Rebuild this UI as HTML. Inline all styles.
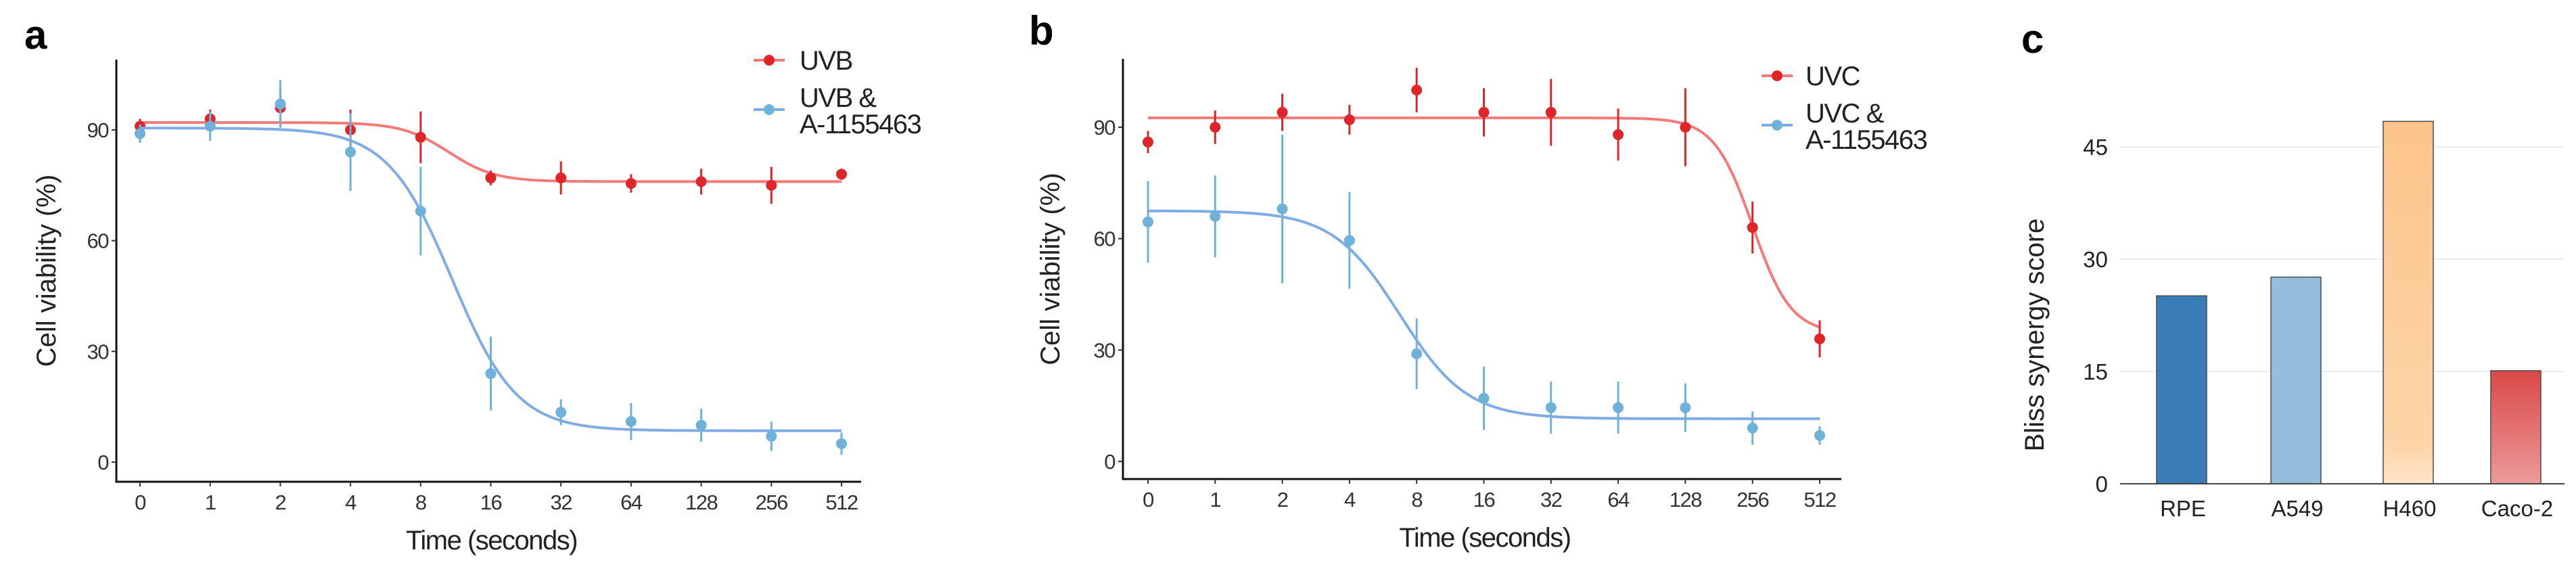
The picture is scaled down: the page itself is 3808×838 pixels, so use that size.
<!DOCTYPE html>
<html><head><meta charset="utf-8"><style>
html,body{margin:0;padding:0;background:#fff;}
svg{display:block;font-family:"Liberation Sans",Arial,sans-serif;}
</style></head><body>
<svg id="fig" width="3808" height="838" viewBox="0 0 3808 838" xmlns="http://www.w3.org/2000/svg">
<defs>
<linearGradient id="gH" x1="0" y1="0" x2="0" y2="1"><stop offset="0" stop-color="#fcc48a"/><stop offset="0.9" stop-color="#fdd5a8"/><stop offset="1" stop-color="#fde4c8"/></linearGradient>
<linearGradient id="gC" x1="0" y1="0" x2="0" y2="1"><stop offset="0" stop-color="#da4848"/><stop offset="1" stop-color="#eb9a9a"/></linearGradient>
</defs>
</svg>
<script>
// ---- data panel a ----
const timeLabels = ["0","1","2","4","8","16","32","64","128","256","512"];
const yTicks = [0,30,60,90];
const uvbMean = [91,93,96,90,88,77,77,75.5,76,75,78];
const uvbErr  = [2,2.5,5,5.5,7,2,4.5,2.5,3.5,5,1.5];
const uvbComboMean = [89,91,97,84,68,24,13.5,11,10,7,5];
const uvbComboErr  = [2.5,4,6.5,10.5,12,10,3.5,5,4.5,4,3];
const uvbFit = [92,76,4.4,3.0];          // top, bottom, mid(index), slope
const uvbComboFit = [90.5,8.5,4.45,2.17];
// ---- data panel b ----
const uvcMean = [86,90,94,92,100,94,94,88,90,63,33];
const uvcErr  = [3,4.5,5,4,6,6.5,9,7,10.5,7,5];
const uvcComboMean = [64.5,66,68,59.5,29,17,14.5,14.5,14.5,9,7];
const uvcComboErr  = [11,11,20,13,9.5,8.5,7,7,6.5,4.5,2.5];
const uvcFit = [92.5,34.5,9.0,3.5];
const uvcComboFit = [67.5,11.5,3.75,2.0];
// ---- data panel c ----
const cellLines = ["RPE","A549","H460","Caco-2"];
const blissScores = [25.1,27.6,48.4,15.1];
const blissTicks = [0,15,30,45];

const svg = document.getElementById('fig');
const NS = 'http://www.w3.org/2000/svg';
function mk(tag, attrs, parent){
  const e = document.createElementNS(NS, tag);
  for (const k in attrs) e.setAttribute(k, attrs[k]);
  (parent||svg).appendChild(e);
  return e;
}
function txt(s, attrs, parent){ const e = mk('text', attrs, parent); e.textContent = s; return e; }

const RED='#e0252a', REDL='#f27a78', BLUE='#6fb1d8', BLUEL='#80ace6';

function linePanel(cfg){
  const g = mk('g',{});
  
  
  const xS = i => cfg.x0 + i*(cfg.x1-cfg.x0)/(timeLabels.length-1);
  const yS = v => cfg.y0 - v*(cfg.y0-cfg.y90)/90;
  const ax = mk('path',{d:`M${cfg.ax} ${cfg.top} V${cfg.bot} H${cfg.right}`,stroke:'#111','stroke-width':3,fill:'none'},g);
  
  
  yTicks.forEach(t=>{
    mk('line',{x1:cfg.ax-7,x2:cfg.ax,y1:yS(t),y2:yS(t),stroke:'#333','stroke-width':2},g);
    const l = txt(String(t),{x:cfg.ax-12,y:yS(t)+11,'text-anchor':'end','font-size':31,fill:'#333','letter-spacing':'-1.5'},g);
    
    
  });
  timeLabels.forEach((t,i)=>{
    mk('line',{x1:xS(i),x2:xS(i),y1:cfg.bot,y2:cfg.bot+7,stroke:'#333','stroke-width':2},g);
    const l = txt(t,{x:xS(i),y:cfg.bot+41,'text-anchor':'middle','font-size':31,fill:'#333','letter-spacing':'-1.5'},g);
    
    
  });
  const xt = txt('Time (seconds)',{x:(cfg.ax+cfg.right)/2+4,y:cfg.bot+100,'text-anchor':'middle','font-size':40,fill:'#222','letter-spacing':'-1.5'},g);
  
  
  const yc = (cfg.top+cfg.bot)/2;
  const yt = txt('Cell viability (%)',{x:cfg.ytx,y:yc,'text-anchor':'middle','font-size':40,fill:'#222',transform:`rotate(-90 ${cfg.ytx} ${yc})`},g);
  
  
  const pl = txt(cfg.letter,{x:cfg.lx,y:cfg.ly,'font-size':60,'font-weight':'bold',fill:'#000'},g);
  
  
  cfg.series.forEach(s=>{
    const sg = mk('g',{},g);
    
    
    const [top,bottom,mid,k] = s.fit;
    let d='';
    const n = timeLabels.length-1;
    for(let j=0;j<=400;j++){
      const i = j*n/400;
      const v = bottom + (top-bottom)/(1+Math.exp(k*(i-mid)));
      d += (j?'L':'M') + xS(i).toFixed(1)+' '+yS(v).toFixed(1);
    }
    const c = mk('path',{d,stroke:s.lc,'stroke-width':4,fill:'none'},sg);
    
    
    s.mean.forEach((m,i)=>{
      const e = mk('line',{x1:xS(i),x2:xS(i),y1:yS(m+s.err[i]),y2:yS(m-s.err[i]),stroke:s.pc,'stroke-width':3},sg);
      
      
      const p = mk('circle',{cx:xS(i),cy:yS(m),r:8,fill:s.pc},sg);
      
      
    });
  });
  cfg.legend.forEach(L=>{
    const lg = mk('g',{},g);
    
    
    mk('line',{x1:L.mx-23,x2:L.mx+23,y1:L.my,y2:L.my,stroke:L.lc,'stroke-width':4},lg);
    mk('circle',{cx:L.mx,cy:L.my,r:8,fill:L.pc},lg);
    L.lines.forEach((t,j)=>txt(t,{x:L.tx,y:L.ty+j*39,'font-size':40,fill:'#222','letter-spacing':'-1.5'},lg));
  });
}

linePanel({name:'panel-a-uvb-chart',letter:'a',lx:36,ly:72,ax:172,top:88,bot:712,right:1273,x0:207,x1:1244,y0:683,y90:192,ytx:82,
  series:[
    {name:'series-uvb',mean:uvbMean,err:uvbErr,fit:uvbFit,pc:RED,lc:REDL},
    {name:'series-uvb-a1155463',mean:uvbComboMean,err:uvbComboErr,fit:uvbComboFit,pc:BLUE,lc:BLUEL}],
  legend:[
    {mx:1137,my:89,tx:1182,ty:103,lines:['UVB'],pc:RED,lc:REDL},
    {mx:1137,my:162,tx:1182,ty:158,lines:['UVB &','A-1155463'],pc:BLUE,lc:BLUEL}]});

linePanel({name:'panel-b-uvc-chart',letter:'b',lx:1521,ly:66,ax:1660,top:87,bot:708,right:2722,x0:1697,x1:2690,y0:682,y90:188,ytx:1566,
  series:[
    {name:'series-uvc',mean:uvcMean,err:uvcErr,fit:uvcFit,pc:RED,lc:REDL},
    {name:'series-uvc-a1155463',mean:uvcComboMean,err:uvcComboErr,fit:uvcComboFit,pc:BLUE,lc:BLUEL}],
  legend:[
    {mx:2627,my:112,tx:2669,ty:126,lines:['UVC'],pc:RED,lc:REDL},
    {mx:2627,my:185,tx:2669,ty:181,lines:['UVC &','A-1155463'],pc:BLUE,lc:BLUEL}]});

(function(){
  const g = mk('g',{});
  
  
  const gx0=3134, gx1=3791, y0=715, per15=166;
  const yS = v => y0 - v*per15/15;
  const centers = [3225,3394,3560,3719];
  const bw = 74;
  const fills = ['#3a7cb6','#94bedb','url(#gH)','url(#gC)'];
  blissTicks.forEach(t=>{
    if(t>0){
      const gl = mk('line',{x1:gx0,x2:gx1,y1:yS(t),y2:yS(t),stroke:'#ececec','stroke-width':2},g);
      
      
    }
    const l = txt(String(t),{x:3116,y:yS(t)+12,'text-anchor':'end','font-size':33,fill:'#222'},g);
    
    
  });
  blissScores.forEach((v,i)=>{
    const b = mk('rect',{x:centers[i]-bw/2,y:yS(v),width:bw,height:y0-yS(v),fill:fills[i],stroke:'#4a4a4a','stroke-width':1.5},g);
    
    
    const l = txt(cellLines[i],{x:centers[i]+2,y:763,'text-anchor':'middle','font-size':33,fill:'#222'},g);
    
    
  });
  const base = mk('line',{x1:gx0,x2:gx1,y1:y0,y2:y0,stroke:'#444','stroke-width':2},g);
  
  
  const yt = txt('Bliss synergy score',{x:3021,y:495,'text-anchor':'middle','font-size':40,fill:'#222',transform:'rotate(-90 3021 495)'},g);
  
  
  const pl = txt('c',{x:2988,y:78,'font-size':60,'font-weight':'bold',fill:'#000'},g);
  
  
})();
</script>
</body></html>
